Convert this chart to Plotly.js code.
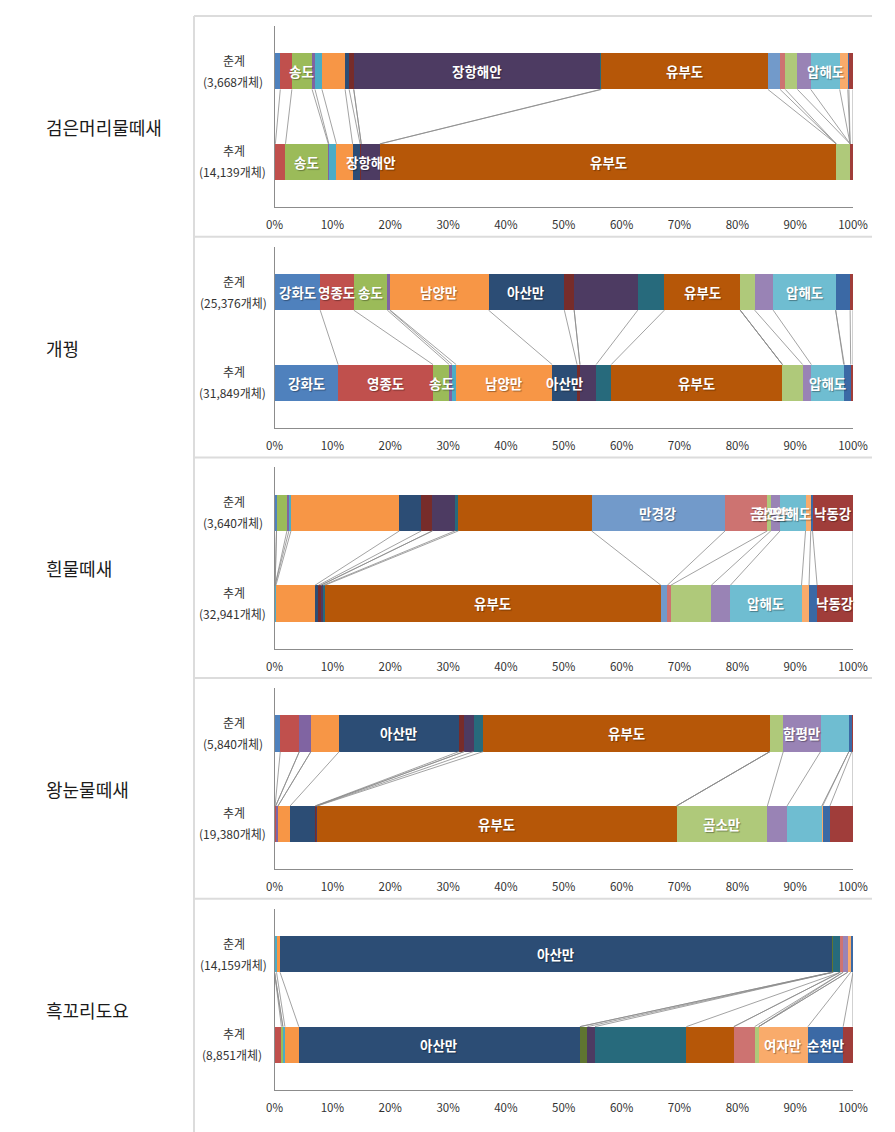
<!DOCTYPE html>
<html>
<head>
<meta charset="utf-8">
<script src="https://cdn.plot.ly/plotly-3.0.1.min.js"></script>
<style>
html,body{margin:0;padding:0;background:#fff;}
#chart{width:895px;height:1132px;}
</style>
</head>
<body>
<div id="chart"></div>
<script>
// ---- DATA ----
const sites = ['강화도','영종도','송도','지역4','지역5','남양만','아산만','지역8','지역9','장항해안','지역11','유부도','만경강','지역14','곰소만','함평만','압해도','여자만','순천만','낙동강'];
const siteColors = ['#4F81BD','#C0504D','#9BBB59','#8064A2','#4BACC6','#F79646','#2C4D75','#772C2A','#5F7530','#4D3B62','#276A7C','#B65708','#729ACA','#CD7371','#AFC97A','#9983B5','#6FBDD1','#F9AB6B','#3B69A5','#A03D3A'];

const species = ['검은머리물떼새','개꿩','흰물떼새','왕눈물떼새','흑꼬리도요'];
const seasonSpring = '춘계';
const seasonAutumn = '추계';
const springCounts = ['(3,668개체)','(25,376개체)','(3,640개체)','(5,840개체)','(14,159개체)'];
const autumnCounts = ['(14,139개체)','(31,849개체)','(32,941개체)','(19,380개체)','(8,851개체)'];

// percentage share of each site (order of `sites`)
const spring1 = [1.0,2.0,3.5,0.5,1.2,4.0,0.7,0.8,0,42.6,0.2,28.8,2.1,0.9,2.1,2.3,5.0,1.4,0.2,0.7];
const autumn1 = [0.15,1.75,7.4,0.1,1.3,2.8,1.3,0.2,0,3.2,0.1,78.8,0,0,2.4,0,0,0,0,0.5];
const spring2 = [7.9,5.8,5.8,0.4,0.1,17.0,13.1,1.7,0,11.0,4.6,13.1,0,0,2.5,3.2,10.8,0,2.5,0.5];
const autumn2 = [11.0,16.4,2.8,0.5,0.7,16.6,4.3,0.5,0,2.8,2.6,29.6,0,0,3.5,1.5,5.6,0.1,1.1,0.4];
const spring3 = [0.35,0,1.8,0.35,0.35,18.75,3.8,1.9,0,3.9,0.6,23.0,23.1,7.3,0.6,1.6,4.4,0.9,0.3,7.0];
const autumn3 = [0.1,0,0,0,0.15,6.75,0.6,0.4,0,0.4,0.3,58.1,1.1,0.6,7.0,3.3,12.3,1.3,1.4,6.2];
const spring4 = [1.0,3.3,0,2.0,0,4.9,20.7,0.9,0,1.6,1.7,49.55,0,0,2.3,6.45,4.9,0,0.5,0.2];
const autumn4 = [0.1,0.1,0,0.4,0,2.1,4.3,0.15,0,0.15,0.1,62.1,0,0,15.7,3.4,6.0,0.15,1.25,4.0];
const spring5 = [0,0,0,0,0.35,0.6,95.45,0,0.2,0,1.2,0,0,0.5,0,0.8,0,0.5,0.4,0];
const autumn5 = [0,1.2,0.25,0,0.35,2.4,48.6,0,1.3,1.3,15.8,8.2,0,3.6,0.7,0,0,8.5,6.1,1.7];

// labelled segments
const springLabels1 = ['송도','장항해안','유부도','압해도'];
const autumnLabels1 = ['송도','장항해안','유부도'];
const springLabels2 = ['강화도','영종도','송도','남양만','아산만','유부도','압해도'];
const autumnLabels2 = ['강화도','영종도','송도','남양만','아산만','유부도','압해도'];
const springLabels3 = ['만경강','곰소만','함평만','압해도','낙동강'];
const autumnLabels3 = ['유부도','압해도','낙동강'];
const springLabels4 = ['아산만','유부도','함평만'];
const autumnLabels4 = ['유부도','곰소만'];
const springLabels5 = ['아산만'];
const autumnLabels5 = ['아산만','여자만','순천만'];

const springAll = [spring1,spring2,spring3,spring4,spring5];
const autumnAll = [autumn1,autumn2,autumn3,autumn4,autumn5];
const springLabAll = [springLabels1,springLabels2,springLabels3,springLabels4,springLabels5];
const autumnLabAll = [autumnLabels1,autumnLabels2,autumnLabels3,autumnLabels4,autumnLabels5];

// ---- LAYOUT GEOMETRY ----
const W = 895, H = 1132;
const step = 220.7;
const FONT = '"Noto Sans CJK KR", "Noto Sans", sans-serif';
const BARW = 0.4;

function cum(arr){ let s=0; return arr.map(v => (s += v)); }

const traces = [];
const shapes = [];
const annotations = [];
const layout = {
  width: W, height: H,
  margin: {l:0, r:0, t:0, b:0},
  paper_bgcolor: '#ffffff', plot_bgcolor: 'rgba(0,0,0,0)',
  barmode: 'stack',
  showlegend: false,
  font: {family: FONT, color: '#333'},
};

for (let k = 0; k < 5; k++) {
  const n = k === 0 ? '' : String(k+1);
  const xa = 'x' + n, ya = 'y' + n;
  const top = 26 + step*k, bot = 207.3 + step*k;
  layout['xaxis' + n] = {
    domain: [274.5/W, 853/W], anchor: ya, range: [0, 100], dtick: 10,
    ticksuffix: '%', showline: true, linecolor: '#8c8c8c', linewidth: 1,
    showgrid: false, zeroline: false, ticks: '', ticklabelstandoff: 7,
    tickfont: {family: FONT, size: 11.5, color: '#333'}, fixedrange: true
  };
  layout['yaxis' + n] = {
    domain: [1 - bot/H, 1 - top/H], anchor: xa, range: [-0.5, 1.5],
    showline: true, linecolor: '#8c8c8c', linewidth: 1,
    showgrid: false, zeroline: false, showticklabels: false, ticks: '', fixedrange: true
  };

  const sp = springAll[k], au = autumnAll[k];
  for (let s = 0; s < sites.length; s++) {
    traces.push({
      type: 'bar', orientation: 'h', name: sites[s],
      x: [au[s], sp[s]], y: [0, 1], width: BARW,
      marker: {color: siteColors[s], line: {width: 0}},
      xaxis: xa, yaxis: ya, hoverinfo: 'skip'
    });
  }
  // series lines
  const cs = cum(sp), ca = cum(au);
  for (let s = 0; s < sites.length; s++) {
    shapes.push({type: 'line', xref: xa, yref: ya,
      x0: cs[s], y0: 1 - BARW/2, x1: ca[s], y1: BARW/2,
      line: {color: '#8c8c8c', width: 0.8}});
  }
  // segment labels
  const addLabels = (labs, vals, c, yv) => {
    labs.forEach(name => {
      const i = sites.indexOf(name);
      annotations.push({xref: xa, yref: ya, x: c[i] - vals[i]/2, y: yv,
        text: name, showarrow: false,
        font: {family: FONT, size: 13.5, color: '#ffffff', weight: 'bold', shadow: '1px 1px 1px rgba(0,0,0,0.35)'}});
    });
  };
  addLabels(springLabAll[k], sp, cs, 1);
  addLabels(autumnLabAll[k], au, ca, 0);

  // category labels
  const cSpring = 71.3 + step*k, cAutumn = 161.8 + step*k;
  annotations.push({xref: 'paper', yref: 'paper', x: 234/W, y: 1 - (cSpring - 11)/H, text: seasonSpring, showarrow: false, xanchor: 'center', yanchor: 'middle', font: {family: FONT, size: 12, color: '#333'}});
  annotations.push({xref: 'paper', yref: 'paper', x: 233/W, y: 1 - (cSpring + 10)/H, text: springCounts[k], showarrow: false, xanchor: 'center', yanchor: 'middle', font: {family: FONT, size: 12, color: '#333'}});
  annotations.push({xref: 'paper', yref: 'paper', x: 234/W, y: 1 - (cAutumn - 11)/H, text: seasonAutumn, showarrow: false, xanchor: 'center', yanchor: 'middle', font: {family: FONT, size: 12, color: '#333'}});
  annotations.push({xref: 'paper', yref: 'paper', x: 232/W, y: 1 - (cAutumn + 10)/H, text: autumnCounts[k], showarrow: false, xanchor: 'center', yanchor: 'middle', font: {family: FONT, size: 12, color: '#333'}});

  // species label
  annotations.push({xref: 'paper', yref: 'paper', x: 44/W, y: 1 - (127 + step*k)/H, text: species[k], showarrow: false, xanchor: 'left', yanchor: 'middle', font: {family: FONT, size: 18, color: '#1a1a1a'}});

  // frame horizontal line
  shapes.push({type: 'line', xref: 'paper', yref: 'paper', x0: 194/W, x1: 872/W, y0: 1 - (16 + step*k)/H, y1: 1 - (16 + step*k)/H, line: {color: '#dcdcdc', width: 2}});
}
// frame left line
shapes.push({type: 'line', xref: 'paper', yref: 'paper', x0: 194/W, x1: 194/W, y0: 1 - 16/H, y1: 0, line: {color: '#dcdcdc', width: 2}});

layout.shapes = shapes;
layout.annotations = annotations;

Plotly.newPlot('chart', traces, layout, {displayModeBar: false, staticPlot: true});
</script>
</body>
</html>
